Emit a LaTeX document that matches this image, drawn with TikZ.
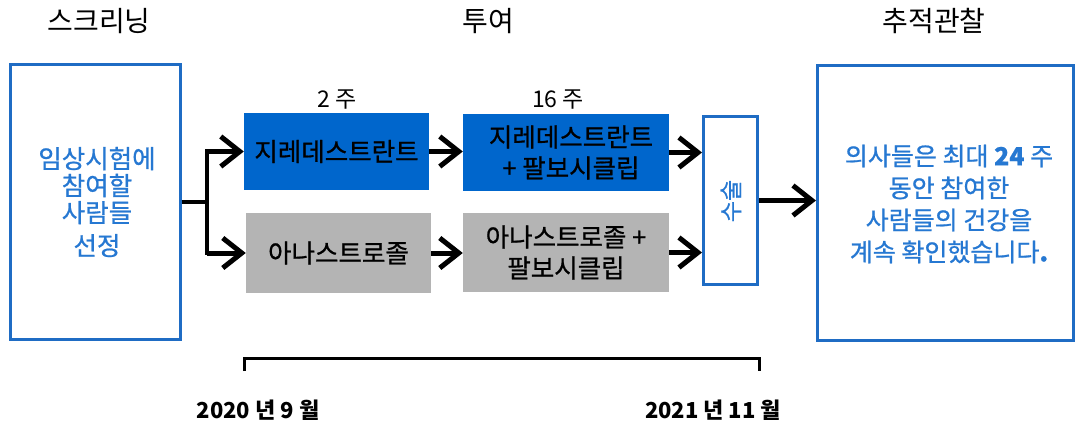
\documentclass[tikz,border=0pt]{standalone}
\usepackage{fontspec}
\setmainfont{Noto Sans CJK KR}
\newfontfamily\krmed{Noto Sans CJK KR}[FakeBold=0.8]
\usetikzlibrary{arrows.meta}
\definecolor{boxblue}{HTML}{1F6CC4}
\definecolor{fillblue}{HTML}{0066CC}
\definecolor{txtblue}{HTML}{2678D2}
\definecolor{fillgray}{HTML}{B4B4B4}
\tikzset{
  outlinebox/.style={draw=boxblue, line width=3pt, fill=white, inner sep=0pt},
  bluebox/.style={fill=fillblue, inner sep=0pt, align=center, font=\krmed\fontsize{25.5}{31}\selectfont},
  graybox/.style={fill=fillgray, inner sep=0pt, align=center, font=\krmed\fontsize{25.5}{31}\selectfont},
  header/.style={font=\fontsize{28}{32}\selectfont},
  weeklbl/.style={font=\fontsize{23}{26}\selectfont},
  datelbl/.style={font=\bfseries\fontsize{22}{26}\selectfont},
  arr/.style={line width=5pt, -{Straight Barb[length=19pt,width=30pt]}},
  plainline/.style={line width=4.5pt},
}
\begin{document}
\begin{tikzpicture}[x=1pt,y=-1pt]
\useasboundingbox (0,0) rectangle (1075,423);
% headers
\node[header] (h1) at (99,21) {스크리닝};
\node[header] (h2) at (488,21) {투여};
\node[header] (h3) at (934,21) {추적관찰};
% left box
\node[outlinebox, minimum width=170pt, minimum height=275pt] (screen) at (95,202) {};
\node[text=txtblue, align=center, font=\krmed\fontsize{25.5}{27}\selectfont] (screentxt) at (97,202) {임상시험에\\참여할\\사람들\\[6pt]선정};
% treatment boxes
\node[bluebox, minimum width=185pt, minimum height=77pt] (b1) at (336.5,151.5) {지레데스트란트};
\node[bluebox, minimum width=206pt, minimum height=77pt] (b2) at (566,152.5) {\hspace*{10pt}지레데스트란트\\\hspace*{10pt}+ 팔보시클립};
\node[graybox, minimum width=185pt, minimum height=80pt] (g1) at (338.5,253) {아나스트로졸};
\node[graybox, minimum width=206pt, minimum height=79pt] (g2) at (566,252.5) {아나스트로졸 +\\팔보시클립};
\node[weeklbl] (w1) at (337,100) {2 주};
\node[weeklbl] (w2) at (558,100) {16 주};
% surgery
\node[outlinebox, minimum width=54pt, minimum height=168pt] (surg) at (730.5,200.5) {};
\node[text=txtblue, rotate=90, font=\krmed\fontsize{23}{26}\selectfont] (surgtxt) at (731,201) {수술};
% follow-up
\node[outlinebox, minimum width=255.5pt, minimum height=275pt] (follow) at (945.25,202.5) {};
\node[text=txtblue, align=center, font=\krmed\fontsize{25}{32}\selectfont] (followtxt) at (949,204) {의사들은 최대 \textbf{24} 주\\동안 참여한\\사람들의 건강을\\계속 확인했습니다\textbf{.}};
% connectors
\coordinate (j) at (207,202);
\draw[plainline] (screen.east) -- (j);
\draw[plainline, line cap=rect] (j |- b1.west) -- (j |- g1.west);
\draw[arr] (j |- b1.west) -- (b1.west);
\draw[arr] (j |- g1.west) -- (g1.west);
\draw[arr] (b1.east) -- (b1.east -| b2.west);
\draw[arr] (g1.east) -- (g1.east -| g2.west);
\draw[arr] (b2.east) -- (b2.east -| surg.west);
\draw[arr] (g2.east) -- (g2.east -| surg.west);
\draw[arr] (surg.east) -- (surg.east -| follow.west);
% bracket
\coordinate (bl) at (244,371);
\coordinate (br) at (759,371);
\draw[line width=3pt] (bl) -- (244,358) -- (759,358) -- (br);
\node[datelbl] (d1) at (258,410) {2020 년 9 월};
\node[datelbl] (d2) at (713,410) {2021 년 11 월};
\end{tikzpicture}
\end{document}
